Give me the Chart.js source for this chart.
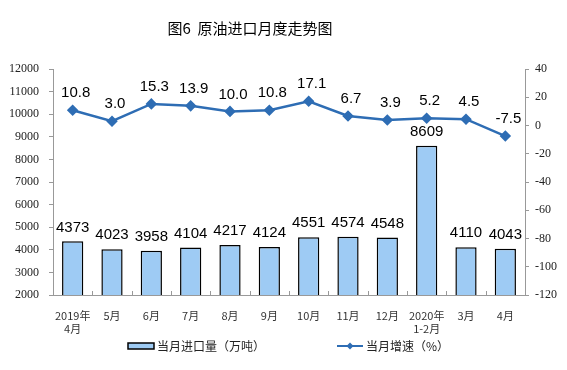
<!DOCTYPE html>
<html>
<head>
<meta charset="utf-8">
<script src="https://cdn.jsdelivr.net/npm/chart.js@4.4.0/dist/chart.umd.min.js"></script>
<style>
  html, body { margin: 0; padding: 0; background: #fff; }
  canvas { display: block; }
</style>
</head>
<body>
<canvas id="grafico" width="567" height="370"></canvas>
<script>
// Dados
const meses = [['2019年', '4月'], '5月', '6月', '7月', '8月', '9月', '10月', '11月', '12月', ['2020年', '1-2月'], '3月', '4月'];
const importacao = [4373, 4023, 3958, 4104, 4217, 4124, 4551, 4574, 4548, 8609, 4110, 4043];
const crescimento = [10.8, 3.0, 15.3, 13.9, 10.0, 10.8, 17.1, 6.7, 3.9, 5.2, 4.5, -7.5];
const titulo = '图6  原油进口月度走势图';
const legendaBarra = '当月进口量（万吨）';
const legendaLinha = '当月增速（%）';

const corBarra = '#9ecbf4';
const corLinha = '#2e6db4';
const fonteEixo = { family: "'Liberation Serif', 'Times New Roman', serif", size: 12 };

// Plugin: título, rótulos de dados, legenda e marcas do eixo x
const extras = {
  id: 'extras',
  afterDatasetsDraw(chart) {
    const ctx = chart.ctx;
    const area = chart.chartArea;
    ctx.save();

    // título
    ctx.fillStyle = '#000';
    ctx.font = '15px "Noto Sans CJK SC"';
    ctx.textAlign = 'center';
    ctx.textBaseline = 'middle';
    ctx.fillText(titulo, 250, 28);

    // rótulos das barras
    ctx.font = '15px "Liberation Sans", Arial';
    chart.getDatasetMeta(0).data.forEach((bar, i) => {
      ctx.fillText(String(importacao[i]), bar.x, bar.y - 14);
    });
    // rótulos da linha
    chart.getDatasetMeta(1).data.forEach((pt, i) => {
      ctx.fillText(crescimento[i].toFixed(1), pt.x + 3, pt.y - 17);
    });

    // marcas do eixo x entre categorias
    ctx.strokeStyle = '#999';
    ctx.lineWidth = 1;
    const passo = (area.right - area.left) / meses.length;
    for (let i = 1; i < meses.length; i++) {
      const px = Math.round(area.left + passo * i) + 0.5;
      ctx.beginPath();
      ctx.moveTo(px, area.bottom);
      ctx.lineTo(px, area.bottom - 4);
      ctx.stroke();
    }

    // legenda
    const ly = 346;
    ctx.fillStyle = corBarra;
    ctx.fillRect(128, ly - 3, 26, 6);
    ctx.strokeStyle = '#000';
    ctx.lineWidth = 1.5;
    ctx.strokeRect(128, ly - 3, 26, 6);
    ctx.fillStyle = '#222';
    ctx.font = '12px "Noto Sans CJK SC"';
    ctx.textAlign = 'left';
    ctx.fillText(legendaBarra, 157, ly);

    ctx.strokeStyle = corLinha;
    ctx.lineWidth = 2;
    ctx.beginPath();
    ctx.moveTo(337, ly);
    ctx.lineTo(363, ly);
    ctx.stroke();
    ctx.fillStyle = corLinha;
    ctx.beginPath();
    ctx.moveTo(350, ly - 3.5);
    ctx.lineTo(353.5, ly);
    ctx.lineTo(350, ly + 3.5);
    ctx.lineTo(346.5, ly);
    ctx.closePath();
    ctx.fill();
    ctx.fillStyle = '#222';
    ctx.fillText(legendaLinha, 366, ly);

    ctx.restore();
  }
};

const ctx = document.getElementById('grafico').getContext('2d');
const grafico = new Chart(ctx, {
  type: 'bar',
  data: {
    labels: meses,
    datasets: [
      {
        type: 'bar',
        label: legendaBarra,
        data: importacao,
        yAxisID: 'y',
        backgroundColor: corBarra,
        borderColor: '#000',
        borderWidth: 1.5,
        barPercentage: 0.54,
        categoryPercentage: 1,
        order: 2
      },
      {
        type: 'line',
        label: legendaLinha,
        data: crescimento,
        yAxisID: 'y1',
        borderColor: corLinha,
        backgroundColor: corLinha,
        borderWidth: 2.5,
        pointStyle: 'rectRot',
        pointRadius: 4,
        tension: 0,
        order: 1
      }
    ]
  },
  options: {
    responsive: false,
    animation: false,
    layout: { padding: { top: 69, left: 0, right: 0, bottom: 0 } },
    plugins: {
      legend: { display: false },
      title: { display: false },
      tooltip: { enabled: false }
    },
    scales: {
      x: {
        grid: { display: false },
        border: { color: '#999' },
        ticks: {
          color: '#333',
          font: { family: '"Noto Sans CJK SC"', size: 11 },
          padding: 6,
          maxRotation: 0,
          autoSkip: false
        },
        afterFit(scale) { scale.height = 75; }
      },
      y: {
        position: 'left',
        min: 2000,
        max: 12000,
        grid: { drawOnChartArea: false, tickLength: 4, color: '#999' },
        border: { color: '#999' },
        ticks: {
          stepSize: 1000,
          color: '#222',
          padding: 10,
          font: fonteEixo,
          callback: (v) => String(v)
        },
        afterFit(scale) { scale.width = 53; }
      },
      y1: {
        position: 'right',
        min: -120,
        max: 40,
        grid: { drawOnChartArea: false, tickLength: 4, color: '#999' },
        border: { color: '#999' },
        ticks: {
          stepSize: 20,
          color: '#222',
          padding: 6,
          font: fonteEixo,
          callback: (v) => String(v)
        },
        afterFit(scale) { scale.width = 42; }
      }
    }
  },
  plugins: [extras]
});
</script>
</body>
</html>
